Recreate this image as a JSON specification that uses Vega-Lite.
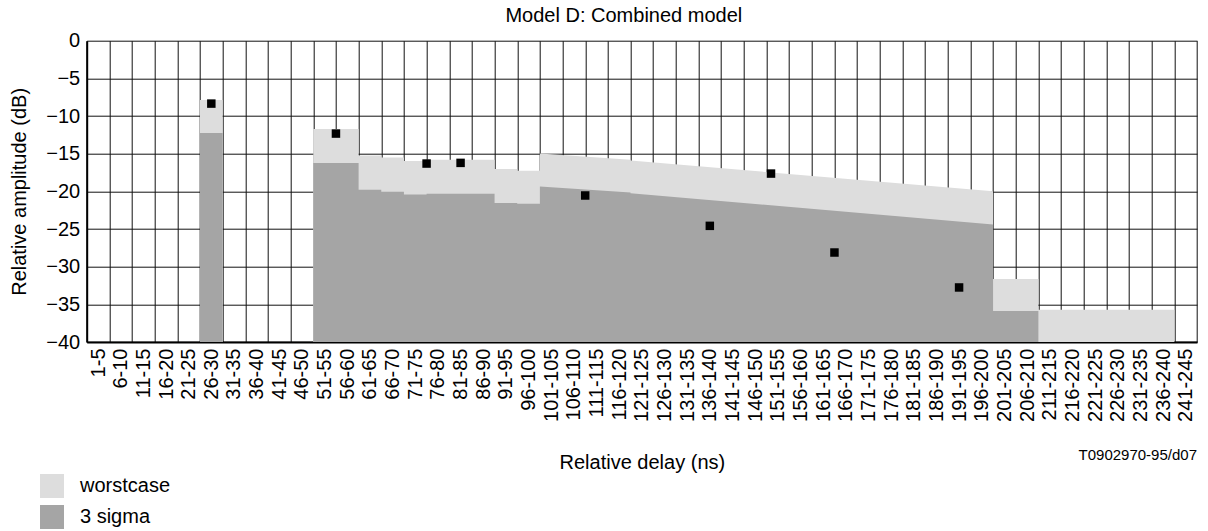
{
  "$schema": "https://vega.github.io/schema/vega-lite/v6.json",
  "width": 1110.3,
  "height": 301.3,
  "autosize": {"type": "none"},
  "padding": {"left": 86.7, "top": 40.7, "right": 11, "bottom": 189},
  "background": "white",
  "config": {
    "view": {"stroke": null},
    "font": "Liberation Sans",
    "axis": {
      "labelFont": "Liberation Sans",
      "titleFont": "Liberation Sans",
      "labelColor": "black",
      "titleColor": "black",
      "titleFontWeight": "normal",
      "domainColor": "black",
      "gridColor": "#111111",
      "gridWidth": 1,
      "ticks": false,
      "tickSize": 0
    }
  },
  "title": {
    "text": "Model D: Combined model",
    "font": "Liberation Sans",
    "fontSize": 20,
    "fontWeight": "normal",
    "color": "black",
    "anchor": "middle",
    "frame": "group",
    "baseline": "alphabetic",
    "offset": -11,
    "dx": -18
  },
  "datasets": {
    "worst": [
      {"series": "worstcase", "delay": 25.5, "amp": -40},
      {"series": "worstcase", "delay": 25.5, "amp": -7.87},
      {"series": "worstcase", "delay": 30.5, "amp": -7.87},
      {"series": "worstcase", "delay": 30.5, "amp": -40},
      {"series": "worstcase", "delay": 50.5, "amp": -40},
      {"series": "worstcase", "delay": 50.5, "amp": -11.71},
      {"series": "worstcase", "delay": 60.5, "amp": -11.71},
      {"series": "worstcase", "delay": 60.5, "amp": -15.25},
      {"series": "worstcase", "delay": 65.5, "amp": -15.25},
      {"series": "worstcase", "delay": 65.5, "amp": -15.52},
      {"series": "worstcase", "delay": 70.5, "amp": -15.52},
      {"series": "worstcase", "delay": 70.5, "amp": -15.96},
      {"series": "worstcase", "delay": 75.5, "amp": -15.96},
      {"series": "worstcase", "delay": 75.5, "amp": -15.82},
      {"series": "worstcase", "delay": 90.5, "amp": -15.82},
      {"series": "worstcase", "delay": 90.5, "amp": -17.02},
      {"series": "worstcase", "delay": 95.5, "amp": -17.02},
      {"series": "worstcase", "delay": 95.5, "amp": -17.28},
      {"series": "worstcase", "delay": 100.5, "amp": -17.28},
      {"series": "worstcase", "delay": 100.5, "amp": -14.98},
      {"series": "worstcase", "delay": 120.5, "amp": -15.82},
      {"series": "worstcase", "delay": 120.5, "amp": -15.9},
      {"series": "worstcase", "delay": 200.5, "amp": -20.0},
      {"series": "worstcase", "delay": 200.5, "amp": -31.65},
      {"series": "worstcase", "delay": 210.5, "amp": -31.65},
      {"series": "worstcase", "delay": 210.5, "amp": -35.72},
      {"series": "worstcase", "delay": 240.5, "amp": -35.72},
      {"series": "worstcase", "delay": 240.5, "amp": -40}
    ],
    "sigma": [
      {"series": "3 sigma", "delay": 25.5, "amp": -40},
      {"series": "3 sigma", "delay": 25.5, "amp": -12.24},
      {"series": "3 sigma", "delay": 30.5, "amp": -12.24},
      {"series": "3 sigma", "delay": 30.5, "amp": -40},
      {"series": "3 sigma", "delay": 50.5, "amp": -40},
      {"series": "3 sigma", "delay": 50.5, "amp": -16.22},
      {"series": "3 sigma", "delay": 60.5, "amp": -16.22},
      {"series": "3 sigma", "delay": 60.5, "amp": -19.8},
      {"series": "3 sigma", "delay": 65.5, "amp": -19.8},
      {"series": "3 sigma", "delay": 65.5, "amp": -20.05},
      {"series": "3 sigma", "delay": 70.5, "amp": -20.05},
      {"series": "3 sigma", "delay": 70.5, "amp": -20.42},
      {"series": "3 sigma", "delay": 75.5, "amp": -20.42},
      {"series": "3 sigma", "delay": 75.5, "amp": -20.33},
      {"series": "3 sigma", "delay": 90.5, "amp": -20.33},
      {"series": "3 sigma", "delay": 90.5, "amp": -21.53},
      {"series": "3 sigma", "delay": 95.5, "amp": -21.53},
      {"series": "3 sigma", "delay": 95.5, "amp": -21.66},
      {"series": "3 sigma", "delay": 100.5, "amp": -21.66},
      {"series": "3 sigma", "delay": 100.5, "amp": -19.36},
      {"series": "3 sigma", "delay": 120.5, "amp": -20.16},
      {"series": "3 sigma", "delay": 120.5, "amp": -20.25},
      {"series": "3 sigma", "delay": 200.5, "amp": -24.4},
      {"series": "3 sigma", "delay": 200.5, "amp": -35.9},
      {"series": "3 sigma", "delay": 210.5, "amp": -35.9},
      {"series": "3 sigma", "delay": 210.5, "amp": -40}
    ],
    "points": [
      {"delay": 28, "amp": -8.35},
      {"delay": 55.5, "amp": -12.33},
      {"delay": 75.5, "amp": -16.31},
      {"delay": 83, "amp": -16.22},
      {"delay": 110.5, "amp": -20.55},
      {"delay": 138, "amp": -24.58},
      {"delay": 151.5, "amp": -17.64},
      {"delay": 165.5, "amp": -28.12},
      {"delay": 193, "amp": -32.76}
    ],
    "note": [
      {"text": "T0902970-95/d07"}
    ]
  },
  "layer": [
    {
      "encoding": {
        "x": {
          "field": "delay",
          "type": "quantitative",
          "scale": {"domain": [0.5, 245.5], "nice": false, "zero": false},
          "axis": {
            "title": "Relative delay (ns)",
            "titleFontSize": 20,
            "titleBaseline": "alphabetic",
            "titleY": 126,
            "values": [0.5, 3, 5.5, 8, 10.5, 13, 15.5, 18, 20.5, 23, 25.5, 28, 30.5, 33, 35.5, 38, 40.5, 43, 45.5, 48, 50.5, 53, 55.5, 58, 60.5, 63, 65.5, 68, 70.5, 73, 75.5, 78, 80.5, 83, 85.5, 88, 90.5, 93, 95.5, 98, 100.5, 103, 105.5, 108, 110.5, 113, 115.5, 118, 120.5, 123, 125.5, 128, 130.5, 133, 135.5, 138, 140.5, 143, 145.5, 148, 150.5, 153, 155.5, 158, 160.5, 163, 165.5, 168, 170.5, 173, 175.5, 178, 180.5, 183, 185.5, 188, 190.5, 193, 195.5, 198, 200.5, 203, 205.5, 208, 210.5, 213, 215.5, 218, 220.5, 223, 225.5, 228, 230.5, 233, 235.5, 238, 240.5, 243, 245.5],
            "labelExpr": "datum.value % 5 == 3 ? (datum.value - 2) + '-' + (datum.value + 2) : ''",
            "labelAngle": -90,
            "labelFontSize": 20,
            "labelPadding": 6,
            "labelOverlap": false,
            "labelFlush": false,
            "labelBound": false,
            "grid": true,
            "gridOpacity": {"condition": {"test": "datum.value % 5 == 0.5", "value": 1}, "value": 0},
            "domainWidth": 2
          }
        },
        "y": {
          "field": "amp",
          "type": "quantitative",
          "scale": {"domain": [-40, 0], "nice": false, "zero": false},
          "axis": {
            "title": "Relative amplitude (dB)",
            "titleFontSize": 20,
            "titleBaseline": "alphabetic",
            "titleX": -61,
            "values": [-40, -35, -30, -25, -20, -15, -10, -5, 0],
            "labelFontSize": 20,
            "labelPadding": 7,
            "labelOverlap": false,
            "grid": true,
            "domainWidth": 2
          }
        }
      },
      "layer": [
        {
          "data": {"name": "worst"},
          "mark": {"type": "area", "opacity": 1, "interpolate": "linear"},
          "encoding": {
            "y2": {"datum": -40},
            "color": {
              "field": "series",
              "type": "nominal",
              "scale": {"domain": ["worstcase", "3 sigma"], "range": ["#dddddd", "#a5a5a5"]},
              "legend": {
                "title": null,
                "orient": "none",
                "legendX": -46.7,
                "legendY": 433.3,
                "padding": 0,
                "symbolType": "square",
                "symbolSize": 576,
                "symbolStrokeWidth": 0,
                "symbolOpacity": 1,
                "labelFont": "Liberation Sans",
                "labelFontSize": 20,
                "labelColor": "black",
                "labelOffset": 16,
                "rowPadding": 7
              }
            }
          }
        },
        {
          "data": {"name": "sigma"},
          "mark": {"type": "area", "opacity": 1, "interpolate": "linear"},
          "encoding": {
            "y2": {"datum": -40},
            "color": {"field": "series", "type": "nominal"}
          }
        },
        {
          "data": {"name": "points"},
          "mark": {"type": "point", "shape": "square", "filled": true, "color": "black", "opacity": 1, "size": 72, "strokeWidth": 0}
        }
      ]
    },
    {
      "data": {"name": "note"},
      "mark": {"type": "text", "align": "right", "baseline": "alphabetic", "font": "Liberation Sans", "fontSize": 15, "color": "black", "dy": 118},
      "encoding": {
        "x": {
          "datum": 245.5,
          "type": "quantitative",
          "scale": {"domain": [0.5, 245.5], "nice": false, "zero": false},
          "axis": {
            "title": "Relative delay (ns)",
            "titleFontSize": 20,
            "titleBaseline": "alphabetic",
            "titleY": 126,
            "values": [0.5, 3, 5.5, 8, 10.5, 13, 15.5, 18, 20.5, 23, 25.5, 28, 30.5, 33, 35.5, 38, 40.5, 43, 45.5, 48, 50.5, 53, 55.5, 58, 60.5, 63, 65.5, 68, 70.5, 73, 75.5, 78, 80.5, 83, 85.5, 88, 90.5, 93, 95.5, 98, 100.5, 103, 105.5, 108, 110.5, 113, 115.5, 118, 120.5, 123, 125.5, 128, 130.5, 133, 135.5, 138, 140.5, 143, 145.5, 148, 150.5, 153, 155.5, 158, 160.5, 163, 165.5, 168, 170.5, 173, 175.5, 178, 180.5, 183, 185.5, 188, 190.5, 193, 195.5, 198, 200.5, 203, 205.5, 208, 210.5, 213, 215.5, 218, 220.5, 223, 225.5, 228, 230.5, 233, 235.5, 238, 240.5, 243, 245.5],
            "labelExpr": "datum.value % 5 == 3 ? (datum.value - 2) + '-' + (datum.value + 2) : ''",
            "labelAngle": -90,
            "labelFontSize": 20,
            "labelPadding": 6,
            "labelOverlap": false,
            "labelFlush": false,
            "labelBound": false,
            "grid": true,
            "gridOpacity": {"condition": {"test": "datum.value % 5 == 0.5", "value": 1}, "value": 0},
            "domainWidth": 2
          }
        },
        "y": {
          "datum": -40,
          "type": "quantitative",
          "scale": {"domain": [-40, 0], "nice": false, "zero": false},
          "axis": {
            "title": "Relative amplitude (dB)",
            "titleFontSize": 20,
            "titleBaseline": "alphabetic",
            "titleX": -61,
            "values": [-40, -35, -30, -25, -20, -15, -10, -5, 0],
            "labelFontSize": 20,
            "labelPadding": 7,
            "labelOverlap": false,
            "grid": true,
            "domainWidth": 2
          }
        },
        "text": {"field": "text", "type": "nominal"}
      }
    }
  ]
}
